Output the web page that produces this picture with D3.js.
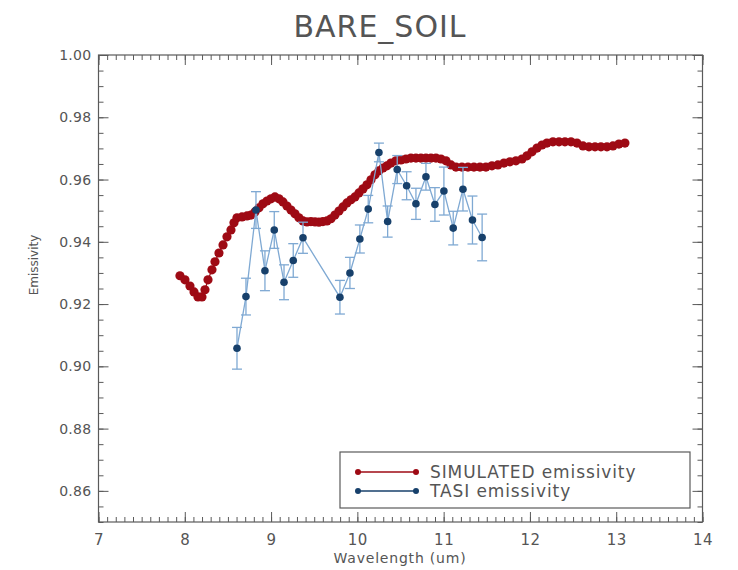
<!DOCTYPE html>
<html>
<head>
<meta charset="utf-8">
<script src="https://cdn.jsdelivr.net/npm/d3@7"></script>
<style>
  html, body { margin: 0; padding: 0; background: #fff; }
  svg { display: block; }
  text { font-family: "DejaVu Sans", sans-serif; fill: #555; }
</style>
</head>
<body>
<svg id="chart" width="738" height="570"></svg>
<script>
// Simulated spectrum (wavelength in um, emissivity)
const simWavelength = [
  7.944, 8.002, 8.060, 8.107, 8.153, 8.199, 8.234, 8.269, 8.315, 8.350,
  8.396, 8.443, 8.489, 8.535, 8.570, 8.605, 8.663, 8.721, 8.767, 8.813,
  8.860, 8.906, 8.952, 8.999, 9.045, 9.092, 9.138, 9.184, 9.231, 9.277,
  9.323, 9.370, 9.416, 9.462, 9.509, 9.555, 9.601, 9.648, 9.694, 9.740,
  9.787, 9.833, 9.879, 9.926, 9.972, 10.018, 10.065, 10.111, 10.158, 10.204,
  10.250, 10.297, 10.343, 10.389, 10.447, 10.505, 10.563, 10.621, 10.679, 10.737,
  10.795, 10.853, 10.911, 10.969, 11.027, 11.085, 11.143, 11.212, 11.282, 11.351,
  11.421, 11.490, 11.560, 11.629, 11.699, 11.768, 11.838, 11.908, 11.966, 12.024,
  12.082, 12.140, 12.197, 12.267, 12.337, 12.406, 12.476, 12.545, 12.615, 12.684,
  12.754, 12.823, 12.893, 12.962, 13.031, 13.101
];
const simEmissivity = [
  0.9291, 0.9278, 0.9258, 0.9239, 0.9223, 0.9223, 0.9246, 0.9278, 0.9310, 0.9336,
  0.9364, 0.9390, 0.9416, 0.9438, 0.9461, 0.9477, 0.9480, 0.9483, 0.9486, 0.9496,
  0.9509, 0.9522, 0.9531, 0.9538, 0.9544, 0.9538, 0.9528, 0.9515, 0.9502, 0.9490,
  0.9477, 0.9467, 0.9464, 0.9465, 0.9464, 0.9463, 0.9465, 0.9467, 0.9474, 0.9486,
  0.9499, 0.9512, 0.9525, 0.9535, 0.9544, 0.9557, 0.9570, 0.9583, 0.9599, 0.9615,
  0.9628, 0.9637, 0.9644, 0.9653, 0.9660, 0.9663, 0.9666, 0.9669, 0.9669, 0.9669,
  0.9669, 0.9669, 0.9669, 0.9666, 0.9660, 0.9647, 0.9640, 0.9640, 0.9640, 0.9640,
  0.9640, 0.9640, 0.9644, 0.9647, 0.9653, 0.9657, 0.9660, 0.9666, 0.9676, 0.9689,
  0.9701, 0.9711, 0.9717, 0.9721, 0.9721, 0.9721, 0.9721, 0.9717, 0.9708, 0.9705,
  0.9705, 0.9705, 0.9705, 0.9708, 0.9714, 0.9717
];

// TASI measurements with one-sigma uncertainty
const tasiWavelength = [
  8.605, 8.709, 8.825, 8.929, 9.037, 9.150, 9.257, 9.370,
  9.798, 9.914, 10.029, 10.126, 10.250, 10.351, 10.462, 10.571,
  10.679, 10.795, 10.899, 11.003, 11.111, 11.224, 11.334, 11.446
];
const tasiEmissivity = [
  0.9058, 0.9224, 0.9502, 0.9307, 0.9438, 0.9270, 0.9340, 0.9413,
  0.9222, 0.9300, 0.9409, 0.9505, 0.9687, 0.9465, 0.9632, 0.9580,
  0.9522, 0.9609, 0.9520, 0.9563, 0.9444, 0.9569, 0.9470, 0.9414
];
const tasiError = [
  0.0067, 0.0059, 0.0059, 0.0064, 0.0059, 0.0056, 0.0054, 0.0050,
  0.0054, 0.0050, 0.0045, 0.0044, 0.0030, 0.0050, 0.0045, 0.0045,
  0.0050, 0.0043, 0.0054, 0.0077, 0.0054, 0.0070, 0.0077, 0.0075
];

const xTicks = [7, 8, 9, 10, 11, 12, 13, 14];
const yTicks = [0.86, 0.88, 0.90, 0.92, 0.94, 0.96, 0.98, 1.00];
const seriesNames = ["SIMULATED emissivity", "TASI emissivity"];

const RED = "#9e0a14";
const NAVY = "#17406b";
const LIGHTBLUE = "#7fa9d3";
const AXIS = "#5a5a5a";

const svg = d3.select("#chart");
const L = 98.5, R = 702.5, T = 55, B = 522;

const x = d3.scaleLinear().domain([7, 14]).range([L, R]);
const y = d3.scaleLinear().domain([0.85, 1.00]).range([B, T]);

const xMinor = d3.range(70, 141).map(v => v / 10);
const yMinor = d3.range(170, 201).map(v => v / 200);

function styleAxis(g) {
  g.select(".domain").remove();
  g.selectAll(".tick line").attr("stroke", AXIS).attr("stroke-width", 1);
  g.selectAll(".tick text").attr("fill", "#555").style("font-family", "DejaVu Sans");
}

// bottom
svg.append("g").attr("transform", `translate(0,${B})`)
  .call(d3.axisBottom(x).tickValues(xMinor).tickSize(-5).tickFormat(""))
  .call(styleAxis);
svg.append("g").attr("transform", `translate(0,${B})`)
  .call(d3.axisBottom(x).tickValues(xTicks).tickSize(-10).tickPadding(12).tickFormat(d3.format("d")))
  .call(styleAxis)
  .call(g => g.selectAll(".tick text").style("font-size", "15px").style("letter-spacing", "0.5px"));
// top
svg.append("g").attr("transform", `translate(0,${T})`)
  .call(d3.axisTop(x).tickValues(xMinor).tickSize(-5).tickFormat(""))
  .call(styleAxis);
svg.append("g").attr("transform", `translate(0,${T})`)
  .call(d3.axisTop(x).tickValues(xTicks).tickSize(-10).tickFormat(""))
  .call(styleAxis);
// left
svg.append("g").attr("transform", `translate(${L},0)`)
  .call(d3.axisLeft(y).tickValues(yMinor).tickSize(-5).tickFormat(""))
  .call(styleAxis);
svg.append("g").attr("transform", `translate(${L},0)`)
  .call(d3.axisLeft(y).tickValues(yTicks).tickSize(-10).tickPadding(7).tickFormat(d3.format(".2f")))
  .call(styleAxis)
  .call(g => g.selectAll(".tick text").style("font-size", "14px").style("letter-spacing", "0.3px"));
// right
svg.append("g").attr("transform", `translate(${R},0)`)
  .call(d3.axisRight(y).tickValues(yMinor).tickSize(-5).tickFormat(""))
  .call(styleAxis);
svg.append("g").attr("transform", `translate(${R},0)`)
  .call(d3.axisRight(y).tickValues(yTicks).tickSize(-10).tickFormat(""))
  .call(styleAxis);

// frame
svg.append("rect")
  .attr("x", L).attr("y", T).attr("width", R - L).attr("height", B - T)
  .attr("fill", "none").attr("stroke", AXIS).attr("stroke-width", 1.2);

// titles
svg.append("text").attr("x", 380).attr("y", 37).attr("text-anchor", "middle")
  .style("font-size", "30px").style("letter-spacing", "1px").attr("fill", "#707070")
  .text("BARE_SOIL");
svg.append("text").attr("x", 400).attr("y", 563).attr("text-anchor", "middle")
  .style("font-size", "14px").style("letter-spacing", "0.8px")
  .text("Wavelength (um)");
svg.append("text").attr("transform", "translate(38,265) rotate(-90)").attr("text-anchor", "middle")
  .style("font-size", "12px")
  .text("Emissivity");

// simulated series
const simData = simWavelength.map((w, i) => ({ w, e: simEmissivity[i] }));
svg.append("path").datum(simData)
  .attr("fill", "none").attr("stroke", RED).attr("stroke-width", 1.2)
  .attr("d", d3.line().x(d => x(d.w)).y(d => y(d.e)));
svg.append("g").selectAll("circle").data(simData).join("circle")
  .attr("cx", d => x(d.w)).attr("cy", d => y(d.e)).attr("r", 4.6).attr("fill", RED);

// TASI series
const tasiData = tasiWavelength.map((w, i) => ({ w, e: tasiEmissivity[i], s: tasiError[i] }));
const eb = svg.append("g").attr("stroke", LIGHTBLUE).attr("stroke-width", 1.3);
eb.selectAll("line.v").data(tasiData).join("line").attr("class", "v")
  .attr("x1", d => x(d.w)).attr("x2", d => x(d.w))
  .attr("y1", d => y(d.e - d.s)).attr("y2", d => y(d.e + d.s));
eb.selectAll("line.t").data(tasiData).join("line").attr("class", "t")
  .attr("x1", d => x(d.w) - 5).attr("x2", d => x(d.w) + 5)
  .attr("y1", d => y(d.e + d.s)).attr("y2", d => y(d.e + d.s));
eb.selectAll("line.b").data(tasiData).join("line").attr("class", "b")
  .attr("x1", d => x(d.w) - 5).attr("x2", d => x(d.w) + 5)
  .attr("y1", d => y(d.e - d.s)).attr("y2", d => y(d.e - d.s));
svg.append("path").datum(tasiData)
  .attr("fill", "none").attr("stroke", LIGHTBLUE).attr("stroke-width", 1.3)
  .attr("d", d3.line().x(d => x(d.w)).y(d => y(d.e)));
svg.append("g").selectAll("circle").data(tasiData).join("circle")
  .attr("cx", d => x(d.w)).attr("cy", d => y(d.e)).attr("r", 3.8).attr("fill", NAVY);

// legend
const lg = svg.append("g");
lg.append("rect").attr("x", 340).attr("y", 452).attr("width", 350).attr("height", 56)
  .attr("fill", "#fff").attr("stroke", AXIS).attr("stroke-width", 1.2);
const legendItems = [
  { name: seriesNames[0], color: RED, yy: 472 },
  { name: seriesNames[1], color: NAVY, yy: 491 }
];
legendItems.forEach(it => {
  lg.append("line").attr("x1", 358).attr("x2", 416).attr("y1", it.yy).attr("y2", it.yy)
    .attr("stroke", it.color).attr("stroke-width", 1.3);
  lg.append("circle").attr("cx", 358).attr("cy", it.yy).attr("r", 3).attr("fill", it.color);
  lg.append("circle").attr("cx", 416).attr("cy", it.yy).attr("r", 3).attr("fill", it.color);
  lg.append("text").attr("x", 430).attr("y", it.yy + 6)
    .style("font-size", "17px").style("letter-spacing", "0.9px")
    .text(it.name);
});
</script>
</body>
</html>
